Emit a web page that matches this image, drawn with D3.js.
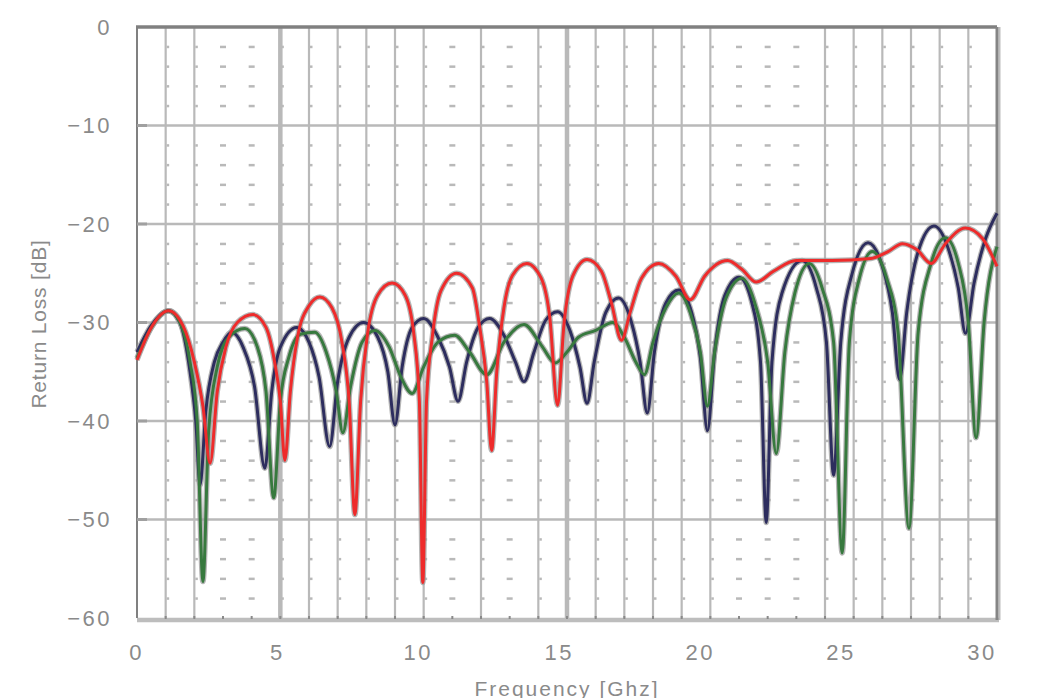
<!DOCTYPE html>
<html>
<head>
<meta charset="utf-8">
<script src="https://cdn.jsdelivr.net/npm/d3@7"></script>
<style>
  body { margin: 0; background: #fff; }
  svg { display: block; }
  .tick-label { font-family: "Liberation Sans", Arial, sans-serif; font-size: 22px; fill: #8a8a8a; letter-spacing: 2.5px; }
  .axis-title { font-family: "Liberation Sans", Arial, sans-serif; font-size: 21px; fill: #8a8a8a; letter-spacing: 2px; }
</style>
</head>
<body>
<svg id="chart" width="1038" height="698"></svg>
<script>
// tick values
const xTicks = [0, 5, 10, 15, 20, 25, 30];
const yTicks = [0, -10, -20, -30, -40, -50, -60];
const thickGrid = [5, 15];
const dottedGrid = [3, 4, 11, 13, 21, 22, 23];

// return loss curves, [GHz, dB]
const redSeries = [
  [0, -33.8], [0.5, -30.5], [1.1, -28.8], [1.6, -30.3], [2.0, -34], [2.3, -38.5], [2.55, -44.3], [2.8, -37],
  [3.1, -32.5], [3.5, -30], [4.05, -29.2], [4.5, -30.5], [4.8, -34], [5.0, -38], [5.16, -44], [5.35, -37],
  [5.6, -31.5], [6.0, -28.3], [6.38, -27.4], [6.8, -28.5], [7.15, -32], [7.4, -38], [7.6, -49.5], [7.8, -38],
  [8.05, -31], [8.4, -27.2], [8.9, -26], [9.35, -27.2], [9.65, -31], [9.85, -38], [9.97, -56.4], [10.1, -38],
  [10.3, -31.5], [10.6, -26.8], [11.15, -25], [11.7, -26.5], [11.95, -30.4], [12.2, -36], [12.37, -43], [12.55, -35],
  [12.8, -28.5], [13.1, -25.2], [13.6, -24], [14.1, -25.5], [14.4, -29.5], [14.67, -38.4], [14.9, -30], [15.2, -25.3],
  [15.7, -23.6], [16.2, -24.8], [16.55, -28], [16.9, -31.8], [17.2, -29], [17.6, -25.5], [18.2, -24], [18.8, -25.3],
  [19.3, -27.7], [19.8, -25.3], [20.6, -23.7], [21.1, -24.6], [21.6, -25.9], [22.2, -24.8], [23.0, -23.7], [24.25, -23.7],
  [25.6, -23.5], [26.2, -22.8], [26.7, -22], [27.2, -22.6], [27.7, -24], [28.2, -22], [28.9, -20.4], [29.5, -21.5], [30, -24.3]
];
const navySeries = [
  [0, -33], [0.5, -30.3], [1.1, -28.8], [1.5, -30], [1.85, -35], [2.05, -40], [2.2, -46.5], [2.4, -39],
  [2.7, -34], [3.0, -32], [3.3, -31], [3.7, -32.5], [4.1, -36.5], [4.46, -44.8], [4.7, -37], [5.0, -32.5],
  [5.57, -30.5], [6.0, -32], [6.35, -35.5], [6.72, -42.6], [7.0, -36], [7.4, -31.5], [7.9, -30], [8.4, -31.5],
  [8.75, -35], [9.0, -40.4], [9.25, -34.5], [9.6, -30.5], [10.0, -29.6], [10.5, -31.5], [10.9, -34.5], [11.2, -38],
  [11.5, -34], [11.9, -30.5], [12.3, -29.6], [12.8, -31.3], [13.2, -34], [13.5, -36], [13.85, -33], [14.25, -29.8],
  [14.67, -28.9], [15.1, -30.8], [15.45, -34.5], [15.7, -38.2], [15.95, -34], [16.35, -29], [16.8, -27.5], [17.25, -30],
  [17.55, -34], [17.8, -39.2], [18.05, -33], [18.45, -28], [18.9, -26.7], [19.35, -29], [19.65, -33.5], [19.9, -41],
  [20.15, -33], [20.5, -27.3], [21.0, -25.4], [21.45, -28], [21.75, -34], [21.95, -50.3], [22.15, -34], [22.5, -27],
  [23.2, -23.7], [23.7, -26.5], [24.05, -32], [24.3, -45.5], [24.55, -32], [24.95, -25], [25.5, -21.9], [26.0, -24.3],
  [26.35, -29], [26.6, -35.8], [26.85, -29], [27.25, -22.8], [27.8, -20.2], [28.3, -22.5], [28.65, -26.5], [28.9, -31.1],
  [29.2, -26], [29.6, -21.5], [30, -18.9]
];
const greenSeries = [
  [0, -33.6], [0.5, -30.5], [1.1, -28.8], [1.5, -30], [1.85, -34], [2.1, -40], [2.3, -56.3], [2.5, -41],
  [2.8, -34.5], [3.2, -31.5], [3.76, -30.6], [4.2, -32.5], [4.5, -37], [4.77, -47.8], [5.0, -38], [5.3, -33.5],
  [5.7, -31.2], [6.2, -31], [6.6, -33], [6.95, -37], [7.18, -41.2], [7.45, -36.5], [7.85, -32], [8.3, -30.8],
  [8.8, -32.5], [9.2, -35.5], [9.6, -37.2], [10.0, -34.5], [10.5, -32], [11.08, -31.3], [11.6, -33], [12.2, -35.3],
  [12.8, -32], [13.5, -30.2], [14.1, -32.3], [14.6, -34.1], [15.0, -33], [15.4, -31.5], [16.0, -30.8], [16.6, -30],
  [17.0, -31.5], [17.4, -34], [17.7, -35.3], [18.0, -32], [18.45, -28.5], [18.9, -27], [19.3, -29], [19.65, -33],
  [19.9, -38.5], [20.15, -33], [20.55, -27.5], [21.1, -25.5], [21.6, -28.5], [22.0, -34], [22.3, -43.3], [22.6, -33],
  [22.95, -27], [23.45, -24], [23.9, -26.5], [24.3, -32], [24.6, -53.4], [24.85, -32], [25.2, -25.5], [25.65, -22.8],
  [26.15, -25.5], [26.55, -31], [26.93, -50.9], [27.25, -31], [27.7, -24], [28.2, -21.4], [28.65, -24], [29.0, -30],
  [29.27, -41.7], [29.55, -30], [30, -22.3]
];

const svg = d3.select('#chart');
const plotLeft = 137, plotRight = 997, plotTop = 27, plotBottom = 618;

const xScale = d3.scaleLinear().domain([0, 30]).range([plotLeft, plotRight]);
const yScale = d3.scaleLinear().domain([0, -60]).range([plotTop, plotBottom]);
// the printed labels drift a little left of their grid lines
const xLabelScale = d3.scaleLinear().domain([0, 30]).range([136.5, 982]);

const grid = svg.append('g');
const gridColor = '#b9b9b9';

// vertical grid, every GHz
d3.range(1, 30).forEach(f => {
    if (dottedGrid.includes(f)) return;
    grid.append('line')
        .attr('x1', xScale(f)).attr('x2', xScale(f))
        .attr('y1', plotTop).attr('y2', plotBottom)
        .attr('stroke', gridColor)
        .attr('stroke-width', thickGrid.includes(f) ? 4.5 : 2.2);
});

// horizontal grid, every 10 dB
yTicks.slice(1, -1).forEach(v => {
    grid.append('line')
        .attr('x1', plotLeft).attr('x2', plotRight)
        .attr('y1', yScale(v)).attr('y2', yScale(v))
        .attr('stroke', gridColor).attr('stroke-width', 2.5);
});

// small marks every 2 dB: dashes on the dotted columns, nubs on the solid ones
const minorDb = d3.range(-2, -60, -2).filter(v => v % 10 !== 0);
d3.range(1, 30).forEach(f => {
    const dotted = dottedGrid.includes(f);
    minorDb.forEach(v => {
        grid.append('rect')
            .attr('x', xScale(f) + (dotted ? -3 : 1))
            .attr('y', yScale(v) - 1)
            .attr('width', dotted ? 6 : 2.5)
            .attr('height', 2.5)
            .attr('fill', gridColor);
    });
});

// frame
grid.append('line').attr('x1', plotLeft).attr('x2', plotRight + 2).attr('y1', plotBottom + 2).attr('y2', plotBottom + 2)
    .attr('stroke', '#bdbdbd').attr('stroke-width', 4.5);
grid.append('line').attr('x1', plotLeft - 1).attr('x2', plotRight).attr('y1', plotTop).attr('y2', plotTop)
    .attr('stroke', '#808080').attr('stroke-width', 3.5);
grid.append('line').attr('x1', plotLeft).attr('x2', plotLeft).attr('y1', plotTop).attr('y2', plotBottom)
    .attr('stroke', '#808080').attr('stroke-width', 2);
grid.append('line').attr('x1', plotRight + 2.5).attr('x2', plotRight + 2.5).attr('y1', plotTop).attr('y2', plotBottom + 2)
    .attr('stroke', '#bdbdbd').attr('stroke-width', 2);
grid.append('line').attr('x1', plotRight).attr('x2', plotRight).attr('y1', plotTop).attr('y2', plotBottom + 2)
    .attr('stroke', '#858585').attr('stroke-width', 3);

// little ticks on the frame
yTicks.slice(1, -1).forEach(v => {
    grid.append('line').attr('x1', plotLeft).attr('x2', plotLeft + 10).attr('y1', yScale(v)).attr('y2', yScale(v))
        .attr('stroke', '#a0a0a0').attr('stroke-width', 3);
});
d3.range(1, 30).forEach(f => {
    grid.append('rect').attr('x', xScale(f) - 1).attr('y', plotBottom - 2).attr('width', 2).attr('height', 3)
        .attr('fill', '#8a8a8a');
});

// curves
const line = d3.line()
    .x(d => xScale(d[0]))
    .y(d => yScale(d[1]))
    .curve(d3.curveMonotoneX);

const curves = [
    { data: navySeries, color: '#2d2d5e' },
    { data: greenSeries, color: '#37793e' },
    { data: redSeries, color: '#ee2b2b' }
];
const plot = svg.append('g');
curves.forEach(c => {
    plot.append('path').attr('d', line(c.data))
        .attr('fill', 'none').attr('stroke', '#9c9c9c').attr('stroke-opacity', 0.75)
        .attr('stroke-width', 5.5).attr('stroke-linejoin', 'round');
});
curves.forEach(c => {
    plot.append('path').attr('d', line(c.data))
        .attr('fill', 'none').attr('stroke', c.color)
        .attr('stroke-width', 3).attr('stroke-linejoin', 'round');
});

// tick labels
yTicks.forEach(v => {
    svg.append('text').attr('class', 'tick-label')
        .attr('x', 112).attr('y', yScale(v))
        .attr('text-anchor', 'end').attr('dominant-baseline', 'central')
        .text(v === 0 ? '0' : '\u2212' + Math.abs(v));
});
xTicks.forEach(f => {
    svg.append('text').attr('class', 'tick-label')
        .attr('x', xLabelScale(f)).attr('y', 652)
        .attr('text-anchor', 'middle').attr('dominant-baseline', 'central')
        .text(f);
});

// axis titles
svg.append('text').attr('class', 'axis-title')
    .attr('x', 567).attr('y', 688)
    .attr('text-anchor', 'middle').attr('dominant-baseline', 'central')
    .text('Frequency [Ghz]');
svg.append('text').attr('class', 'axis-title')
    .style('letter-spacing', '0.8px')
    .attr('transform', 'translate(38,324) rotate(-90)')
    .attr('text-anchor', 'middle').attr('dominant-baseline', 'central')
    .text('Return Loss [dB]');
</script>
</body>
</html>
